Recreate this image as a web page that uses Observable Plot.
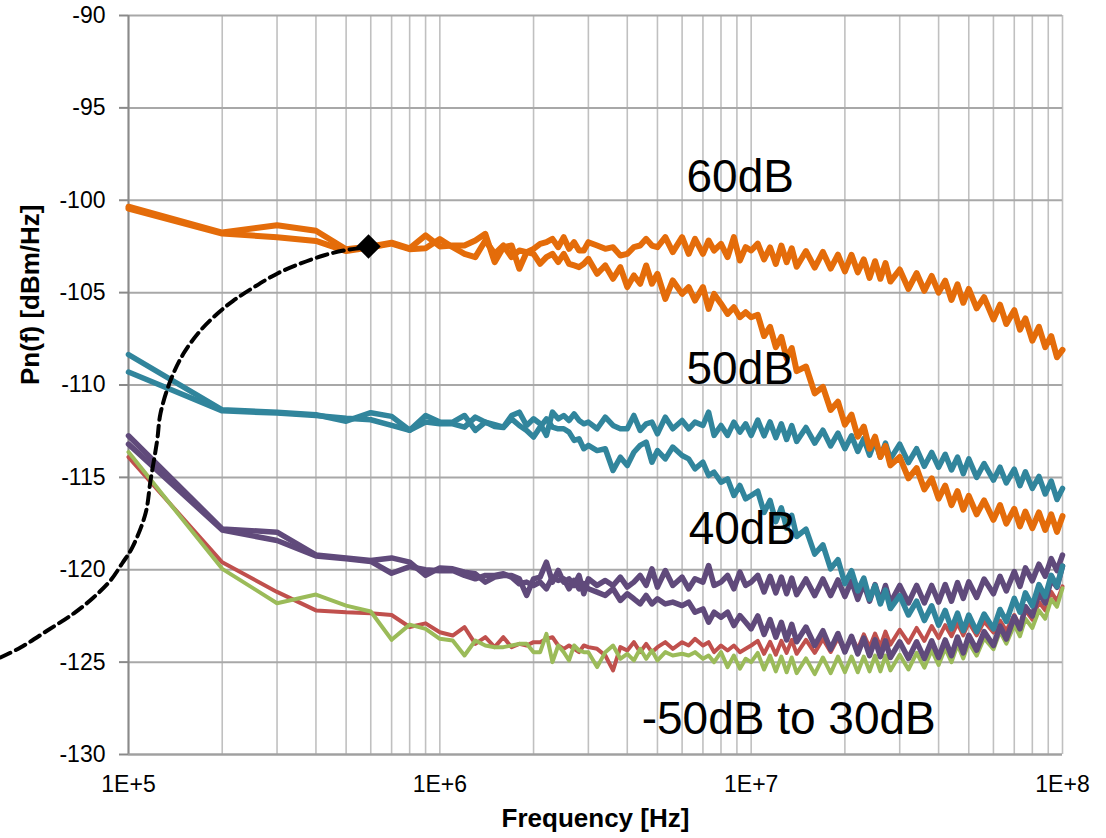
<!DOCTYPE html>
<html>
<head>
<meta charset="utf-8">
<script src="https://cdn.jsdelivr.net/npm/d3@7"></script>
<script src="https://cdn.jsdelivr.net/npm/@observablehq/plot@0.6"></script>
<style>
  html, body { margin: 0; padding: 0; background: #fff; }
  #chart { width: 1106px; height: 838px; }
</style>
</head>
<body>
<div id="chart"></div>
<script>
// Frequency grid in MHz (shared by all series)
const freqMHz = [
  0.1,0.2,0.3,0.4,0.5,0.6,0.7,0.8,0.9,1.0,
  1.1,1.2,1.3,1.4,1.5,1.6,1.7,1.8,1.9,2.0,
  2.1,2.2,2.3,2.4,2.5,2.6,2.7,2.8,2.9,3.0,3.2,3.4,3.6,3.8,4.0,4.2,4.4,4.6,4.8,5.0,5.3,5.6,6.0,6.3,6.6,7.0,7.3,7.6,8.0,8.4,8.8,9.2,9.6,10,
  10.5,11,11.5,12,12.5,13,13.5,14,15,16,17,18,19,20,21,22,23,24,25,26,27,28,30,32,34,36,38,40,42,44,46,48,50,53,56,60,63,66,70,73,76,80,84,88,92,96,100
];

// 60dB (orange, upper)
const orange60 = [
  -100.35,-101.75,-101.35,-101.65,-102.65,-102.5,-102.3,-102.6,-101.9,-102.5,
  -102.45,-102.45,-102.18,-101.82,-103.35,-102.54,-102.45,-103.71,-102.81,-102.63,
  -102.36,-102.27,-102.09,-102.54,-102.0,-102.63,-102.27,-102.72,-102.72,-102.27, -102.45,-102.63,-102.54,-102.99,-102.9, -102.54,-102.45,-102.09,-102.45,-102.54, -102.0,-102.81,-102.0,-102.9,-102.09,-102.9,-102.18,-102.72,-102.36, -103.08,-102.0,-103.26,-102.54,-102.72,
  -102.35,-103.2,-102.55,-103.45,-102.45,-103.35,-102.6,-103.6, -102.75,-103.65,-102.8,-103.7,-102.95,-103.85, -102.95,-103.9,-103.2,-104.2,-103.3,-104.25,-103.4,-104.4, -103.75,-104.8,-103.95,-104.9,-104.1,-105.0, -104.35,-105.4,-104.55,-105.55,-104.8, -105.85,-105.25,-106.45,-105.65,-106.7,-105.95,-107.0,-106.4,-107.6, -106.85,-107.95,-107.35,-108.5,-108.1
];
// orange, descending
const orange2 = [
  -100.45,-101.8,-102.0,-102.2,-102.75,-102.55,-102.35,-102.65,-102.6,-102.1,
  -102.54,-102.9,-103.08,-102.18,-102.9,-102.45,-103.08,-102.72,-102.81,-102.9,
  -103.44,-103.08,-102.9,-103.35,-102.9,-103.44,-103.53,-103.62,-103.44,-103.17, -103.98,-103.53,-104.25,-103.62,-104.7, -104.07,-104.52,-103.53,-104.52,-103.98, -105.34,-104.34,-105.07,-104.7,-105.43,-104.7,-105.88,-105.07,-105.6, -106.15,-105.79,-106.33,-106.06,-106.33,
  -106.2,-107.35,-106.85,-107.95,-107.4,-108.55,-108.0,-109.25, -109.0,-110.45,-110.1,-111.35,-110.9,-112.15, -111.6,-112.8,-112.25,-113.45,-112.8,-113.9,-113.3,-114.35, -113.9,-115.05,-114.5,-115.65,-115.05,-116.15, -115.45,-116.5,-115.75,-116.75,-116.0, -117.0,-116.25,-117.3,-116.5,-117.5,-116.7,-117.65,-116.85,-117.75, -116.9,-117.85,-117.0,-117.95,-117.1
];
// teal, flat
const teal1 = [
  -108.35,-111.34,-111.47,-111.61,-111.96,-111.5,-111.7,-112.45,-111.65,-112.0,
  -112.01,-111.65,-112.46,-112.01,-112.15,-112.28,-111.65,-111.47,-112.19,-111.83,
  -112.1,-112.73,-111.47,-111.83,-111.65,-111.92,-111.56,-111.92,-112.1,-112.01, -112.37,-111.74,-112.19,-112.37,-112.37, -111.65,-112.46,-112.1,-112.01,-112.64, -111.74,-112.37,-111.92,-112.37,-112.01,-112.19,-111.47,-112.73,-112.19, -112.73,-112.01,-112.55,-112.1,-112.73,
  -111.9,-112.75,-112.0,-112.85,-112.1,-112.95,-112.2,-113.05, -112.3,-113.15,-112.45,-113.3,-112.6,-113.45, -112.75,-113.6,-112.9,-113.8,-113.0,-113.9,-113.15,-114.0, -113.2,-114.2,-113.45,-114.4,-113.65,-114.45, -113.75,-114.6,-113.9,-114.8,-114.0, -115.0,-114.25,-115.15,-114.45,-115.3,-114.55,-115.45,-114.7,-115.6, -114.95,-115.9,-115.2,-116.2,-115.6
];
// teal, descending
const teal2 = [
  -109.3,-111.4,-111.52,-111.65,-111.8,-111.88,-112.19,-112.45,-112.0,-112.1,
  -112.1,-112.28,-111.74,-112.01,-112.25,-112.3,-111.83,-112.19,-112.46,-112.82,
  -112.28,-111.83,-112.28,-112.37,-112.37,-112.55,-113.0,-112.91,-113.45,-113.27, -113.55,-113.45,-114.63,-113.91,-114.36, -113.64,-113.27,-113.09,-114.18,-113.55, -114.0,-113.36,-113.82,-114.0,-114.54,-114.18,-114.9,-114.72,-115.26, -115.08,-115.98,-115.44,-116.16,-115.98,
  -115.75,-116.9,-116.25,-117.4,-116.65,-117.75,-117.05,-118.2, -117.8,-119.15,-118.65,-119.95,-119.45,-120.75, -120.05,-121.15,-120.45,-121.6,-120.85,-121.85,-121.1,-122.1, -121.4,-122.45,-121.7,-122.75,-121.95,-123.0, -122.2,-123.2,-122.35,-123.3,-122.45, -123.35,-122.4,-123.2,-122.15,-122.8,-121.55,-122.3,-121.25,-121.95, -120.8,-121.45,-120.3,-120.9,-119.8
];
// purple, flat
const purple1 = [
  -112.75,-117.79,-117.97,-119.2,-119.36,-119.5,-119.36,-119.59,-120.3,-119.9,
  -119.95,-120.13,-120.22,-120.67,-120.4,-120.31,-120.31,-120.49,-121.39,-120.49,
  -120.4,-119.59,-120.67,-120.04,-120.67,-120.49,-120.85,-120.31,-121.3,-120.49, -120.85,-120.58,-120.85,-120.4,-120.94, -120.67,-120.31,-120.85,-119.95,-120.94, -120.04,-120.85,-120.4,-121.03,-120.49,-120.67,-119.77,-120.85,-120.67, -120.31,-121.03,-120.13,-120.85,-120.67,
  -120.3,-121.2,-120.35,-121.25,-120.4,-121.3,-120.45,-121.35, -120.5,-121.4,-120.5,-121.4,-120.55,-121.45, -120.6,-121.6,-120.75,-121.7,-120.8,-121.75,-120.85,-121.8, -120.85,-121.8,-120.85,-121.8,-120.85,-121.75, -120.8,-121.7,-120.7,-121.55,-120.65, -121.5,-120.5,-121.3,-120.35,-121.15,-120.1,-120.9,-119.9,-120.6, -119.7,-120.35,-119.4,-120.05,-119.2
];
// purple, dipping
const purple2 = [
  -113.2,-117.85,-118.42,-119.25,-119.4,-119.55,-120.19,-119.83,-120.0,-120.05,
  -120.04,-120.31,-120.49,-120.31,-120.31,-120.22,-120.4,-120.76,-120.67,-120.85,
  -120.67,-121.03,-120.4,-120.58,-120.49,-121.03,-120.58,-121.03,-120.76,-121.03, -121.21,-121.39,-121.03,-121.66,-121.3, -121.57,-121.85,-121.39,-121.85,-121.57, -121.85,-121.75,-121.94,-121.75,-122.3,-122.12,-122.84,-122.3,-122.57, -122.3,-123.02,-122.48,-122.84,-123.2,
  -122.5,-123.5,-122.7,-123.65,-122.85,-123.8,-122.95,-123.9, -123.1,-124.1,-123.3,-124.3,-123.45,-124.45, -123.6,-124.55,-123.7,-124.65,-123.8,-124.7,-123.85,-124.75, -123.9,-124.8,-123.9,-124.8,-123.85,-124.75, -123.8,-124.65,-123.65,-124.5,-123.55, -124.35,-123.35,-124.1,-123.05,-123.75,-122.55,-123.2,-122.0,-122.5, -121.25,-121.8,-120.5,-120.95,-119.8
];
// red (-50dB to 30dB group)
const red = [
  -113.9,-119.6,-121.2,-122.2,-122.3,-122.35,-122.45,-123.1,-122.9,-123.38,
  -123.56,-123.11,-124.01,-123.65,-124.19,-123.65,-124.19,-124.01,-124.1,-123.92,
  -123.92,-123.74,-123.65,-124.1,-124.28,-124.1,-124.28,-124.46,-124.1,-124.19, -124.28,-124.64,-125.45,-124.19,-124.37, -123.92,-124.46,-124.01,-124.46,-124.19, -123.92,-124.28,-123.92,-124.1,-123.74,-124.1,-123.92,-124.46,-124.1, -124.37,-124.1,-124.46,-124.28,-124.1,
  -123.85,-124.55,-123.9,-124.6,-123.85,-124.5,-123.8,-124.55, -123.8,-124.5,-123.75,-124.45,-123.7,-124.45, -123.6,-124.3,-123.5,-124.2,-123.45,-124.15,-123.35,-124.05, -123.25,-123.95,-123.15,-123.85,-123.05,-123.7, -123.0,-123.6,-122.9,-123.55,-122.85, -123.55,-122.8,-123.4,-122.75,-123.3,-122.45,-123.05,-122.2,-122.7, -121.75,-122.2,-121.2,-121.7,-120.9
];
// green (-50dB to 30dB group)
const green = [
  -113.63,-119.95,-121.81,-121.34,-121.94,-122.26,-123.79,-122.97,-123.2,-123.74,
  -123.83,-124.64,-123.83,-124.1,-124.19,-124.19,-124.1,-124.01,-124.01,-124.46,
  -124.46,-123.47,-125.0,-124.1,-124.46,-124.91,-124.1,-124.37,-124.46,-124.46, -125.27,-124.46,-124.1,-124.82,-124.55, -124.91,-124.28,-124.82,-124.37,-124.91, -124.46,-124.64,-124.55,-124.64,-124.46,-124.82,-124.64,-125.0,-124.46, -125.27,-124.64,-125.36,-124.82,-125.0,
  -124.5,-125.4,-124.65,-125.5,-124.7,-125.55,-124.75,-125.6, -124.8,-125.65,-124.75,-125.6,-124.7,-125.55, -124.7,-125.55,-124.7,-125.5,-124.65,-125.5,-124.65,-125.45, -124.6,-125.4,-124.5,-125.3,-124.35,-125.15, -124.25,-125.0,-124.05,-124.8,-123.95, -124.65,-123.7,-124.3,-123.35,-124.0,-123.0,-123.6,-122.65,-123.15, -122.2,-122.65,-121.6,-122.0,-121.0
];

// dashed reference curve (Hz, dBm/Hz)
const curveFreq = [3.88e4,4.50e4,5.49e4,6.66e4,7.72e4,8.75e4,9.54e4,1.028e5,1.134e5,1.177e5,1.236e5,1.267e5,1.364e5,1.502e5,1.703e5,1.932e5,2.174e5,2.521e5,3.01e5,3.57e5,4.23e5,4.91e5,5.69e5,5.9e5];
const curveVal  = [-124.75,-124.21,-123.29,-122.37,-121.5,-120.58,-119.66,-118.8,-116.96,-115.17,-113.0,-111.54,-109.76,-108.3,-107.05,-106.13,-105.43,-104.72,-103.96,-103.42,-102.99,-102.72,-102.56,-102.5];
const markerFreq = [5.9e5];
const markerVal = [-102.5];

// annotations
const annoText = ["60dB","50dB","40dB","-50dB to 30dB"];
const annoFreq = [6.2e6, 6.2e6, 6.3e6, 4.45e6];
const annoVal  = [-99.55, -109.95, -118.6, -128.9];

// axes
const yTicks = [-130,-125,-120,-115,-110,-105,-100,-95,-90];
const xTicks = [1e5,1e6,1e7,1e8];
const xTickLabels = ["1E+5","1E+6","1E+7","1E+8"];
const yTitle = "Pn(f) [dBm/Hz]";
const xTitle = "Frequency [Hz]";

// minor grid positions (1..9 x each decade)
const gridX = [];
for (let d = 1e5; d < 1e8; d *= 10) for (let k = 1; k < 10; k++) gridX.push(k * d);
gridX.push(1e8);

const rows = vals => freqMHz.map((f, i) => ({f: f * 1e6, v: vals[i]}));
const curve = curveFreq.map((f, i) => ({f, v: curveVal[i]}));
const marker = markerFreq.map((f, i) => ({f, v: markerVal[i]}));
const anno = annoText.map((t, i) => ({t, f: annoFreq[i], v: annoVal[i]}));
const xTickRows = xTicks.map((f, i) => ({f, t: xTickLabels[i]}));

const font = "'Liberation Sans', Arial, Helvetica, sans-serif";
const lineOpts = (stroke, w) => ({x: "f", y: "v", stroke, strokeWidth: w, strokeLinejoin: "round", strokeLinecap: "round"});

const chart = Plot.plot({
  width: 1106,
  height: 838,
  marginLeft: 128,
  marginRight: 44,
  marginTop: 15,
  marginBottom: 84,
  style: {fontFamily: font, fontSize: "23px", color: "#000", background: "#fff", overflow: "visible"},
  x: {type: "log", domain: [1e5, 1e8]},
  y: {domain: [-130, -90]},
  marks: [
    Plot.ruleX(gridX, {stroke: "#c0c0c0", strokeWidth: 1.6}),
    Plot.ruleY(yTicks, {stroke: "#a8a8a8", strokeWidth: 2}),
    Plot.ruleX([1e5], {stroke: "#8a8a8a", strokeWidth: 2}),
    Plot.ruleY([-130], {stroke: "#a0a0a0", strokeWidth: 2}),
    Plot.axisY({ticks: yTicks, tickFormat: d => String(d), tickSize: 9, tickPadding: 14, stroke: "#8a8a8a", strokeWidth: 2, fill: "#000", fontSize: 23, label: null}),
    Plot.axisX({ticks: [], label: null}),
    Plot.text(xTickRows, {x: "f", text: "t", frameAnchor: "bottom", lineAnchor: "top", dy: 21, fontSize: 23, fill: "#000"}),
    Plot.line(rows(red), lineOpts("#C0504D", 4)),
    Plot.line(rows(green), lineOpts("#9BBB59", 4)),
    Plot.line(rows(purple2), lineOpts("#604A7B", 5.5)),
    Plot.line(rows(purple1), lineOpts("#604A7B", 5.5)),
    Plot.line(rows(teal2), lineOpts("#31859C", 5.5)),
    Plot.line(rows(teal1), lineOpts("#31859C", 5.5)),
    Plot.line(rows(orange2), lineOpts("#E46C0A", 6)),
    Plot.line(rows(orange60), lineOpts("#E46C0A", 6)),
    Plot.line(curve, {x: "f", y: "v", curve: "catmull-rom", stroke: "#000", strokeWidth: 4, strokeDasharray: "11,6"}),
    Plot.dot(marker, {x: "f", y: "v", symbol: "diamond2", r: 11, fill: "#000", stroke: "none"}),
    Plot.text(anno, {x: "f", y: "v", text: "t", textAnchor: "start", lineAnchor: "bottom", fontSize: 46, fill: "#000"}),
    Plot.text([yTitle], {frameAnchor: "left", dx: -98, rotate: -90, fontWeight: "bold", fontSize: 26, fill: "#000"}),
    Plot.text([xTitle], {frameAnchor: "bottom", dy: 72, fontWeight: "bold", fontSize: 26, fill: "#000"})
  ]
});
document.getElementById("chart").appendChild(chart);
</script>
</body>
</html>
